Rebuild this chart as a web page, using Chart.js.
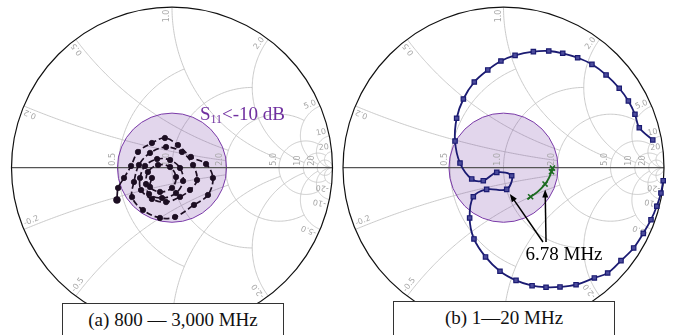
<!DOCTYPE html>
<html><head><meta charset="utf-8">
<script src="https://cdn.jsdelivr.net/npm/chart.js@4.4.0/dist/chart.umd.min.js"></script>
<style>
html,body{margin:0;padding:0;background:#fff;}
#wrap{position:relative;width:673px;height:335px;overflow:hidden;background:#fff;}
canvas{position:absolute;top:0;}
.cap{position:absolute;box-sizing:border-box;border:1px solid #333;background:#fff;font:19px "Liberation Serif","Times New Roman",serif;color:#111;text-align:center;white-space:nowrap;}
</style></head><body>
<div id="wrap">
<canvas id="ca" width="336" height="335" style="left:0;width:336px;height:335px"></canvas>
<canvas id="cb" width="337" height="335" style="left:336px;width:337px;height:335px"></canvas>
<div class="cap" id="capA" style="left:62px;top:303px;width:222px;height:33px;line-height:31px"></div>
<div class="cap" id="capB" style="left:393px;top:301px;width:222px;height:35px;line-height:31px"></div>
</div>
<script>
// ---------------- data ----------------
const captions = ["(a) 800 \u2014 3,000 MHz", "(b) 1\u201420 MHz"];
const gridR = [0.5, 1, 2, 5, 10, 20];                 // resistance circles (tick values)
const gridRLimit = [1, 2, 5, 10, 20, Infinity];        // reactance where each circle stops
const gridX = [0.2, 0.5, 1, 2, 5, 10, 20];             // reactance arcs (tick values)
const gridXLimit = [2, 2, 5, 10, 20, Infinity, Infinity]; // resistance where each arc stops
const s11Radius = 0.34;                                // |Gamma| of the S11 < -10 dB disc

// (a) 800-3000 MHz, reflection coefficient (Re, Im)
const aRe = [-0.343,-0.336,-0.299,-0.255,-0.212,-0.125,-0.044,0.037,0.118,0.212,0.255,0.224,0.137,0.019,-0.075,-0.181,-0.249,
             -0.237,-0.206,-0.137,-0.037,0.062,0.131,0.156,0.112,0.050,-0.037,-0.125,-0.193,
             -0.199,-0.168,-0.093,-0.012,0.050,0.069,0.025,-0.062,-0.143,
             -0.162,-0.150,-0.087,-0.012,0.025,0.000,-0.075,-0.137,-0.125];
const aIm = [-0.201,-0.126,-0.064,0.011,0.098,0.154,0.185,0.141,0.067,0.023,-0.064,-0.170,-0.232,-0.307,-0.313,-0.264,-0.183,
             -0.089,0.017,0.092,0.129,0.098,0.017,-0.077,-0.139,-0.182,-0.214,-0.195,-0.139,
             -0.064,0.011,0.054,0.048,-0.002,-0.083,-0.158,-0.189,-0.164,
             -0.102,-0.027,0.017,0.004,-0.058,-0.126,-0.151,-0.120,-0.064];

// (b) 1-20 MHz, main coil (blue)
const bRe = [0.930,0.846,0.819,0.778,0.721,0.639,0.551,0.462,0.369,0.282,0.186,0.072,-0.016,-0.098,-0.182,-0.250,-0.292,-0.302,-0.271,
             -0.198,-0.126,-0.042,0.051,0.020,-0.105,
             -0.188,-0.211,-0.184,-0.112,-0.022,0.078,0.178,0.265,0.352,0.452,0.566,0.649,0.732,0.811,0.871,0.919,0.955,0.981,0.995];
const bIm = [0.173,0.249,0.333,0.416,0.495,0.578,0.644,0.685,0.713,0.727,0.723,0.700,0.665,0.609,0.534,0.428,0.308,0.166,0.029,
             -0.070,-0.081,-0.029,-0.050,-0.135,-0.135,
             -0.181,-0.313,-0.444,-0.556,-0.645,-0.702,-0.735,-0.745,-0.743,-0.729,-0.687,-0.656,-0.579,-0.500,-0.409,-0.324,-0.240,-0.158,-0.081];
// (b) matched (green)
const cRe = [0.148,0.169,0.212,0.259,0.283,0.299,0.305];
const cIm = [-0.197,-0.181,-0.151,-0.102,-0.064,-0.025,-0.002];
const cMark = [0,1,0,1,0,1,1];
const freqLabel = "6.78 MHz";
const freqIdxBlue = 23, freqIdxGreen = 3;

// ---------------- helpers ----------------
function gamma(r, x){ const d=(r+1)*(r+1)+x*x; return {x:(r*r-1+x*x)/d, y:2*x/d}; }
function fmt(v){ return Math.abs(v) < 10 ? v.toFixed(1) : String(v); }
function pts(re, im){ return re.map((v,i)=>({x:v, y:im[i]})); }

function smithPlugin(opts){
  return {
    id:'smith'+opts.id,
    beforeDatasetsDraw(chart){
      const ctx=chart.ctx, sx=chart.scales.x, sy=chart.scales.y;
      const P=(gx,gy)=>[sx.getPixelForValue(gx), sy.getPixelForValue(gy)];
      const Rpx = sx.getPixelForValue(1)-sx.getPixelForValue(0);
      const line=(arr)=>{ctx.beginPath(); arr.forEach((g,i)=>{const p=P(g[0],g[1]); i?ctx.lineTo(p[0],p[1]):ctx.moveTo(p[0],p[1]);}); ctx.stroke();};
      ctx.save();
      ctx.strokeStyle='#c4c4c4'; ctx.lineWidth=0.9;
      gridR.forEach((r,i)=>{
        const c=r/(1+r), rho=1/(1+r), X=gridRLimit[i];
        let ph0=0;
        if (isFinite(X)){ const g=gamma(r,X); ph0=Math.atan2(g.y, g.x-c); }
        const a=[]; const N=160;
        for(let k=0;k<=N;k++){ const ph=ph0+(2*Math.PI-2*ph0)*k/N; a.push([c+rho*Math.cos(ph), rho*Math.sin(ph)]); }
        line(a);
      });
      gridX.forEach((x,i)=>{
        const Rm=gridXLimit[i];
        const g0=gamma(0,x), g1=isFinite(Rm)?gamma(Rm,x):{x:1,y:0};
        const cy=1/x, rad=1/x;
        let t0=Math.atan2(g0.y-cy,g0.x-1), t1=Math.atan2(g1.y-cy,g1.x-1);
        if (t1<t0) t1+=2*Math.PI;
        [1,-1].forEach(s=>{
          const a=[]; const N=120;
          for(let k=0;k<=N;k++){ const t=t0+(t1-t0)*k/N; a.push([1+rad*Math.cos(t), s*(cy+rad*Math.sin(t))]); }
          line(a);
        });
      });
      const o=P(0,0);
      ctx.beginPath(); ctx.arc(o[0],o[1],s11Radius*Rpx,0,2*Math.PI);
      ctx.fillStyle='rgba(112,48,160,0.2)'; ctx.fill();
      ctx.strokeStyle='#7a3aa8'; ctx.lineWidth=1; ctx.stroke();
      ctx.strokeStyle='#555'; ctx.lineWidth=1.3;
      line([[-1,0],[1,0]]);
      ctx.beginPath(); ctx.arc(o[0],o[1],Rpx,0,2*Math.PI);
      ctx.strokeStyle='#111'; ctx.lineWidth=1.2; ctx.stroke();
      ctx.font='8px "DejaVu Sans"'; ctx.fillStyle='#a6a6a6';
      gridR.forEach(r=>{
        const p=P((r-1)/(r+1),0);
        ctx.save(); ctx.translate(p[0]-1.5,p[1]-2); ctx.rotate(-Math.PI/2);
        ctx.textAlign='left'; ctx.textBaseline='bottom'; ctx.fillText(fmt(r),0,0); ctx.restore();
      });
      gridX.forEach(x=>{
        [1,-1].forEach(s=>{
          const g=gamma(0,s*x); const th=Math.atan2(g.y,g.x);
          const p=P(g.x*0.985,g.y*0.985);
          ctx.save(); ctx.translate(p[0],p[1]);
          if(s>0){ ctx.rotate(-th); ctx.textAlign='right'; } else { ctx.rotate(Math.PI-th); ctx.textAlign='left'; }
          ctx.textBaseline='bottom'; ctx.fillText(fmt(s*x),0,-1); ctx.restore();
        });
      });
      ctx.restore();
    },
    afterDatasetsDraw(chart){
      if (opts.after) opts.after(chart);
    }
  };
}

function limits(w,h,cx,cy,R){ return {x:{min:-cx/R,max:(w-cx)/R}, y:{min:-(h-cy)/R,max:cy/R}}; }

function makeChart(id, w, cx, datasets, after){
  const L=limits(w,335,cx,167.7,160.5);
  return new Chart(document.getElementById(id),{
    type:'scatter',
    data:{datasets},
    options:{
      responsive:false, maintainAspectRatio:false, animation:false, devicePixelRatio:1,
      layout:{padding:0, autoPadding:false},
      plugins:{legend:{display:false}, tooltip:{enabled:false}},
      events:[],
      scales:{
        x:{type:'linear',display:false,min:L.x.min,max:L.x.max},
        y:{type:'linear',display:false,min:L.y.min,max:L.y.max}
      }
    },
    plugins:[smithPlugin({id, after})]
  });
}

const darkA='#1c0e22';
makeChart('ca',336,172,[{
  data:pts(aRe,aIm), showLine:true, clip:false,
  borderColor:darkA, borderWidth:1.7, tension:0.35,
  pointRadius:aRe.map((v,i)=>i===0?3.4:2.7), pointBackgroundColor:darkA, pointBorderColor:darkA, pointBorderWidth:0.8,
  segment:{borderDash:c=>c.p0DataIndex<2?[]:[6,3]}
}], chart=>{
  const ctx=chart.ctx, sx=chart.scales.x, sy=chart.scales.y;
  ctx.save();
  ctx.fillStyle='#7030a0';
  let x=sx.getPixelForValue(0.174), y=sy.getPixelForValue(0.297);
  ctx.textBaseline='alphabetic'; ctx.textAlign='left';
  ctx.font='19px "Liberation Serif"'; ctx.fillText('S',x,y); x+=ctx.measureText('S').width;
  ctx.font='12px "Liberation Serif"'; ctx.fillText('11',x,y+3); x+=ctx.measureText('11').width;
  ctx.font='19px "Liberation Serif"'; ctx.fillText('<-10 dB',x,y);
  ctx.restore();
});

const blue='#1b1b72', green='#1d6b22';
makeChart('cb',337,167.5,[
  {data:pts(bRe,bIm), showLine:true, clip:false, borderColor:blue, borderWidth:1.8, tension:0.35,
   pointStyle:'rect', pointRadius:3.1, pointBackgroundColor:'#4b4b9c', pointBorderColor:blue, pointBorderWidth:1.2},
  {data:pts(cRe,cIm), showLine:true, clip:false, borderColor:green, borderWidth:1.8, tension:0.35,
   pointStyle:'crossRot', pointRadius:cMark.map(m=>m?3.6:0), pointBorderColor:green, pointBorderWidth:1.6}
], chart=>{
  const ctx=chart.ctx, sx=chart.scales.x, sy=chart.scales.y;
  const P=(gx,gy)=>[sx.getPixelForValue(gx), sy.getPixelForValue(gy)];
  ctx.save();
  ctx.fillStyle='#000'; ctx.font='19px "Liberation Serif"'; ctx.textAlign='left'; ctx.textBaseline='alphabetic';
  const tp=P(0.137,-0.575); ctx.fillText(freqLabel,tp[0],tp[1]);
  const arrows=[[P(0.246,-0.463), P(bRe[freqIdxBlue],bIm[freqIdxBlue])],
                [P(0.265,-0.463), P(cRe[freqIdxGreen],cIm[freqIdxGreen])]];
  ctx.strokeStyle='#000'; ctx.lineWidth=1.5;
  arrows.forEach(([s,e])=>{
    const dx=e[0]-s[0], dy=e[1]-s[1], L=Math.hypot(dx,dy), ux=dx/L, uy=dy/L;
    const tx=e[0]-ux*5.5, ty=e[1]-uy*5.5;
    ctx.beginPath(); ctx.moveTo(s[0],s[1]); ctx.lineTo(tx-ux*6,ty-uy*6); ctx.stroke();
    ctx.beginPath(); ctx.moveTo(tx,ty); ctx.lineTo(tx-ux*8-uy*3,ty-uy*8+ux*3); ctx.lineTo(tx-ux*8+uy*3,ty-uy*8-ux*3); ctx.closePath(); ctx.fill();
  });
  ctx.restore();
});

document.getElementById('capA').textContent=captions[0];
document.getElementById('capB').textContent=captions[1];
</script>
</body></html>
